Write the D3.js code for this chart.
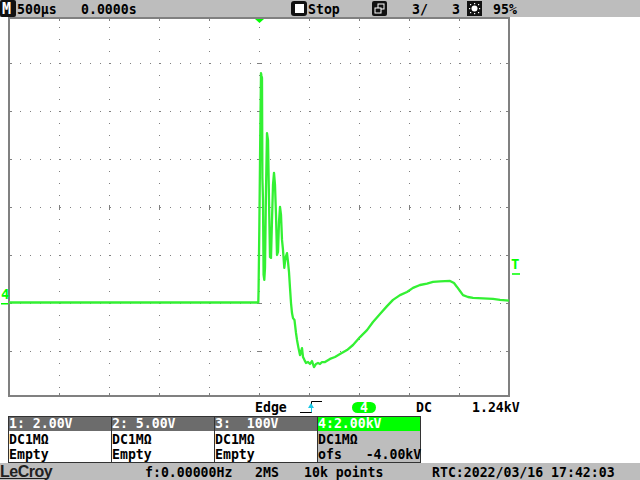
<!DOCTYPE html>
<html><head><meta charset="utf-8">
<script src="https://cdn.jsdelivr.net/npm/d3@7"></script>
<style>
body{margin:0;background:#fff;}
svg{display:block;}
text{font-family:"DejaVu Sans Mono",monospace;font-size:13.2px;font-weight:bold;white-space:pre;}
</style></head>
<body>
<script>
// ---- data ----
const timeUs = [-2500,-7,-4,3,13,20,25,30,34,40,46,53,60,70,80,90,100,110,120,130,140,150,160,170,180,190,200,210,220,230,240,253,265,280,290,300,310,320,330,340,355,370,380,395,410,420,430,440,455,470,490,510,530,550,570,590,610,630,660,710,760,810,880,940,1010,1080,1140,1210,1280,1340,1410,1480,1540,1610,1680,1740,1810,1910,1950,1980,2010,2040,2090,2140,2240,2340,2410,2500];
const voltsKv = [0.02,0.02,0.63,3.04,7.13,9.58,9.46,9.38,5.21,4.29,1.17,0.96,1.46,4.71,7.08,6.79,4.29,1.92,1.88,3.46,4.92,5.42,4.92,3.67,2.0,2.13,3.38,4.0,3.67,2.63,2.21,1.46,1.88,2.08,1.71,1.29,0.63,0.0,-0.42,-0.63,-0.71,-1.25,-1.54,-1.88,-2.17,-2.04,-1.88,-2.25,-2.38,-2.5,-2.46,-2.54,-2.42,-2.67,-2.54,-2.5,-2.54,-2.46,-2.46,-2.33,-2.25,-2.13,-1.96,-1.75,-1.42,-1.13,-0.79,-0.46,-0.13,0.13,0.33,0.46,0.63,0.75,0.81,0.88,0.9,0.92,0.83,0.67,0.5,0.33,0.25,0.21,0.19,0.17,0.13,0.1];
const timeTicks = [-2500,-2000,-1500,-1000,-500,0,500,1000,1500,2000,2500];
const voltTicks = [-4,-2,0,2,4,6,8,10,12];
const triggerLevelKv = 1.24;
const topBarTexts = [["500µs",17],["0.0000s",81],["Stop",308],["3/",412],["3",452],["95%",493]];
const channelHeaders = ["1: 2.00V","2: 5.00V","3:  100V","4:2.00kV"];
const channelRow2 = ["DC1MΩ","DC1MΩ","DC1MΩ","DC1MΩ"];
const channelRow3 = ["Empty","Empty","Empty","ofs   -4.00kV"];
const bottomTexts = [["f:0.00000Hz",145],["2MS",255],["10k points",304],["RTC:2022/03/16 17:42:03",432]];

const W=640,H=480;
const svg=d3.select("body").append("svg").attr("width",W).attr("height",H);
const x=d3.scaleLinear().domain([-2500,2500]).range([9,509]);
const y=d3.scaleLinear().domain([-4,12]).range([399,15]);
const GRAY="#bdbdbd", DARK="#6c6c6c", GRID="#808080", GREEN="#00ff00", TRACE="#33f033";

// top bar
svg.append("rect").attr("x",0).attr("y",0).attr("width",W).attr("height",17).attr("fill",GRAY);
svg.append("rect").attr("x",0).attr("y",0).attr("width",16).attr("height",17).attr("fill","#111").attr("rx",2);
svg.append("text").attr("x",2).attr("y",14).attr("fill","#fff").style("font-size","15px").text("M");
topBarTexts.forEach(([t,px])=>svg.append("text").attr("x",px).attr("y",14).attr("fill","#000").text(t));
// stop icon
svg.append("rect").attr("x",291).attr("y",1).attr("width",16).attr("height",15).attr("rx",3).attr("fill","#111");
svg.append("rect").attr("x",295).attr("y",4).attr("width",9).attr("height",9).attr("fill","#fff");
// windows icon
svg.append("rect").attr("x",372).attr("y",1).attr("width",15).attr("height",15).attr("rx",2).attr("fill","#111");
svg.append("rect").attr("x",378).attr("y",4).attr("width",6).attr("height",5).attr("fill","none").attr("stroke","#fff");
svg.append("rect").attr("x",375).attr("y",8).attr("width",6).attr("height",5).attr("fill","#111").attr("stroke","#fff");
// sun icon
svg.append("rect").attr("x",467).attr("y",1).attr("width",15).attr("height",15).attr("fill","#111");
svg.append("circle").attr("cx",474.5).attr("cy",8.5).attr("r",3).attr("fill","#fff");
[[-5,0],[5,0],[0,-5],[0,5],[-4,-4],[4,4],[-4,4],[4,-4]].forEach(([dx,dy])=>svg.append("rect").attr("x",474+dx).attr("y",8+dy).attr("width",1.2).attr("height",1.2).attr("fill","#fff"));

// grid
const g=svg.append("g").attr("shape-rendering","crispEdges");
const pTop=18,pBot=396,pLeft=9,pRight=509;
timeTicks.slice(1,-1).forEach(t=>{
  const px=Math.round(x(t));
  for(let yy=y(12)+12; yy<pBot; yy+=12){ if(yy>pTop) g.append("rect").attr("x",px).attr("y",yy).attr("width",1).attr("height",1).attr("fill",GRID);}
  g.append("rect").attr("x",px).attr("y",pTop).attr("width",1).attr("height",3).attr("fill",GRID);
  g.append("rect").attr("x",px).attr("y",pBot-3).attr("width",1).attr("height",3).attr("fill",GRID);
});
voltTicks.slice(1,-1).forEach(v=>{
  const py=Math.round(y(v));
  for(let xx=pLeft+1; xx<pRight; xx+=10){ g.append("rect").attr("x",xx).attr("y",py).attr("width",1).attr("height",1).attr("fill",GRID);}
  g.append("rect").attr("x",pLeft).attr("y",py).attr("width",3).attr("height",1).attr("fill",GRID);
  g.append("rect").attr("x",pRight-3).attr("y",py).attr("width",3).attr("height",1).attr("fill",GRID);
});
// center crosshair minor ticks
const cx=Math.round(x(0)), cy=Math.round(y(4));
voltTicks.slice(1,-1).forEach(v=>g.append("rect").attr("x",cx-2).attr("y",Math.round(y(v))).attr("width",5).attr("height",1).attr("fill",GRID));
timeTicks.slice(1,-1).forEach(t=>g.append("rect").attr("x",Math.round(x(t))).attr("y",cy-2).attr("width",1).attr("height",5).attr("fill",GRID));
g.append("rect").attr("x",pLeft).attr("y",pTop).attr("width",pRight-pLeft).attr("height",pBot-pTop).attr("fill","none").attr("stroke",GRID).attr("stroke-width",1.5);

// trace
const pts=timeUs.map((t,i)=>[t,voltsKv[i]]);
svg.append("path").datum(pts).attr("fill","none").attr("stroke",TRACE).attr("stroke-width",2.3).attr("stroke-linejoin","round")
  .attr("d",d3.line().x(d=>x(d[0])).y(d=>y(d[1])));

// markers
svg.append("path").attr("d",`M${x(0)-4},${pTop+1}L${x(0)+5},${pTop+1}L${x(0)+0.5},${pTop+5}Z`).attr("fill",GREEN);
svg.append("text").attr("x",1).attr("y",y(0)-4).attr("fill",GREEN).style("font-size","14px").text("4");
svg.append("rect").attr("x",1).attr("y",y(0)).attr("width",7).attr("height",1.5).attr("fill",GREEN);
svg.append("text").attr("x",511).attr("y",y(triggerLevelKv)-4).attr("fill",GREEN).style("font-size","14px").text("T");
svg.append("rect").attr("x",512).attr("y",y(triggerLevelKv)).attr("width",8).attr("height",1.5).attr("fill",GREEN);

// trigger row
svg.append("text").attr("x",255).attr("y",412).text("Edge");
svg.append("path").attr("d","M300,412.5H311.5V401.5H322").attr("fill","none").attr("stroke","#000").attr("stroke-width",1);
svg.append("path").attr("d","M311,403L308,408H314Z").attr("fill","#19c8e6");
svg.append("rect").attr("x",311).attr("y",407).attr("width",1).attr("height",5).attr("fill","#19c8e6");
svg.append("rect").attr("x",352).attr("y",402).attr("width",24).attr("height",11).attr("rx",5.5).attr("fill",GREEN);
svg.append("text").attr("x",364).attr("y",412).attr("text-anchor","middle").attr("fill","#fff").text("4");
svg.append("text").attr("x",416).attr("y",412).text("DC");
svg.append("text").attr("x",472).attr("y",412).text("1.24kV");

// channel panels
const panelX=[8,111,214,317], pw=103;
panelX.forEach((px,i)=>{
  const is4=i===3;
  svg.append("rect").attr("x",px).attr("y",431).attr("width",pw).attr("height",32).attr("fill",is4?GRAY:"#fff");
  svg.append("rect").attr("x",px).attr("y",416).attr("width",pw).attr("height",15).attr("fill",is4?GREEN:DARK);
  svg.append("rect").attr("x",px+0.5).attr("y",416.5).attr("width",pw).attr("height",46).attr("fill","none").attr("stroke","#333").attr("stroke-width",1);
  svg.append("text").attr("x",px+1).attr("y",428).attr("fill","#fff").text(channelHeaders[i]);
  svg.append("text").attr("x",px+1).attr("y",444).attr("fill","#000").text(channelRow2[i]);
  svg.append("text").attr("x",px+1).attr("y",459).attr("fill","#000").text(channelRow3[i]);
});

// bottom bar
svg.append("rect").attr("x",0).attr("y",463).attr("width",W).attr("height",17).attr("fill",GRAY);
svg.append("text").attr("x",0).attr("y",477).attr("fill","#222").style("font-family","'Liberation Sans',sans-serif").style("font-size","16px").style("letter-spacing","-0.5px").text("LeCroy");
svg.append("rect").attr("x",0).attr("y",478).attr("width",48).attr("height",1).attr("fill","#222");
bottomTexts.forEach(([t,px])=>svg.append("text").attr("x",px).attr("y",477).attr("fill","#000").text(t));
</script>
</body></html>
